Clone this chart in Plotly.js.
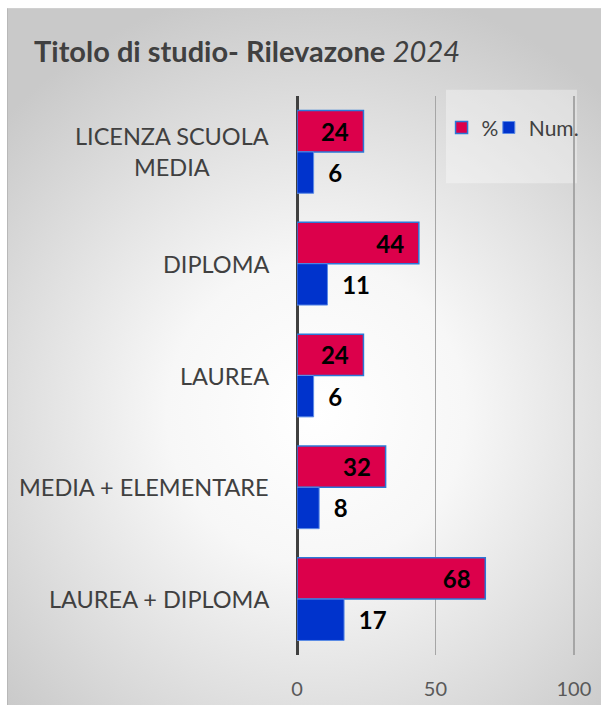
<!DOCTYPE html>
<html>
<head>
<meta charset="utf-8">
<script src="https://cdn.plot.ly/plotly-3.0.1.min.js"></script>
<style>
  html, body { margin: 0; padding: 0; background: #ffffff; }
  #wrap { position: relative; width: 601px; height: 705px; overflow: hidden; }
  #bg { position: absolute; left: 7px; top: 8px; width: 594px; height: 697px;
        border-left: 1px solid #b8b8b8; border-top: 1px solid #d0d0d0; box-sizing: border-box;
        background: radial-gradient(ellipse 72% 62% at 52% 58%, #ffffff 0%, #f7f7f7 35%, #e2e2e2 65%, #c9c9c9 100%); }
  #chart { position: absolute; left: 0; top: 0; width: 601px; height: 705px; }
</style>
</head>
<body>
<div id="wrap"><div id="bg"></div><div id="chart"></div></div>
<script>
const categories = ['LICENZA SCUOLA<br>MEDIA', 'DIPLOMA', 'LAUREA', 'MEDIA + ELEMENTARE', 'LAUREA + DIPLOMA'];
const pctValues = [24, 44, 24, 32, 68];
const numValues = [6, 11, 6, 8, 17];
const seriesNames = ['%', 'Num.'];
const xTicks = [0, 50, 100];

const FONT = 'Lato, "Open Sans", sans-serif';
const NB = '\u00a0';

const traces = [
  {
    type: 'bar', orientation: 'h', name: seriesNames[0], legend: 'legend',
    y: categories, x: pctValues,
    marker: { color: '#DC004B', line: { color: '#2A78D8', width: 1.5 } },
    texttemplate: '%{x}' + NB + NB, textposition: 'inside', insidetextanchor: 'end',
    textfont: { family: FONT, size: 24, color: '#000000', weight: 'bold' },
    cliponaxis: false, hoverinfo: 'skip'
  },
  {
    type: 'bar', orientation: 'h', name: seriesNames[1], legend: 'legend2',
    y: categories, x: numValues,
    marker: { color: '#0033CC', line: { color: '#5B8BE6', width: 1 } },
    texttemplate: NB + NB + '%{x}', textposition: 'outside',
    textfont: { family: FONT, size: 24, color: '#000000', weight: 'bold' },
    cliponaxis: false, hoverinfo: 'skip'
  }
];

const annotations = categories.map(c => ({
  xref: 'paper', yref: 'y', x: -0.095, y: c, text: c,
  xanchor: 'right', yanchor: 'middle', align: 'center', showarrow: false,
  font: { family: FONT, size: 23.5, color: '#404040' }
}));

const legendStyle = {
  orientation: 'h', y: 0.943, xanchor: 'left', yanchor: 'middle',
  bgcolor: 'rgba(0,0,0,0)', font: { family: FONT, size: 21, color: '#404040' },
  itemwidth: 30
};

const layout = {
  width: 601, height: 705,
  paper_bgcolor: 'rgba(0,0,0,0)', plot_bgcolor: 'rgba(0,0,0,0)',
  margin: { l: 297, r: 26, t: 96, b: 50, autoexpand: false },
  title: {
    text: '<b>Titolo di studio- Rilevazone</b> <i>2024</i>',
    font: { family: FONT, size: 29, color: '#404040' },
    x: 34 / 601, xanchor: 'left', xref: 'container',
    y: 1 - 52 / 705, yanchor: 'middle', yref: 'container'
  },
  barmode: 'group', bargap: 0.26, bargroupgap: 0,
  xaxis: {
    range: [0, 100.4], tickvals: xTicks, ticktext: xTicks.map(String),
    showgrid: true, gridcolor: '#a6a6a6', gridwidth: 1.5,
    zeroline: true, zerolinecolor: '#404040', zerolinewidth: 3,
    showline: false, ticks: 'outside', ticklen: 16, tickcolor: 'rgba(0,0,0,0)',
    tickfont: { family: FONT, size: 20, color: '#595959' }, fixedrange: true
  },
  yaxis: {
    autorange: 'reversed', showticklabels: false, showgrid: false,
    zeroline: false, showline: false, ticks: '', fixedrange: true
  },
  showlegend: true,
  legend: Object.assign({}, legendStyle, { x: 0.52 }),
  legend2: Object.assign({}, legendStyle, { x: 0.69 }),
  shapes: [
    { type: 'rect', xref: 'paper', yref: 'paper', x0: 0.536, x1: 1.007, y0: 0.844, y1: 1.011,
      fillcolor: 'rgba(255,255,255,0.35)', line: { width: 0 }, layer: 'below' }
  ],
  annotations: annotations
};

Plotly.newPlot('chart', traces, layout, { displayModeBar: false, staticPlot: true });
</script>
</body>
</html>
